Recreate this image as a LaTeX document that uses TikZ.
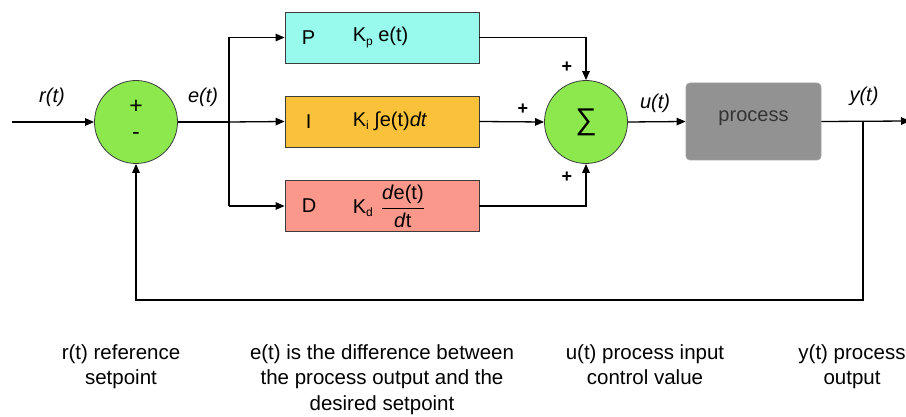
\documentclass[tikz,border=0pt]{standalone}
\usepackage{fontspec}
\setmainfont{Liberation Sans}
\usetikzlibrary{arrows.meta,calc}
\definecolor{pcol}{RGB}{152,250,236}
\definecolor{icol}{RGB}{249,194,58}
\definecolor{dcol}{RGB}{250,152,140}
\definecolor{gcol}{RGB}{140,232,76}
\definecolor{prcol}{RGB}{146,146,146}
\definecolor{edgecol}{RGB}{60,60,60}
\tikzset{
  sumnode/.style={circle, draw=edgecol, line width=0.8pt, fill=gcol, minimum size=83pt, inner sep=0pt},
  termbox/.style={rectangle, draw=edgecol, line width=0.8pt, minimum width=194pt, minimum height=51pt, inner sep=0pt},
  procbox/.style={rectangle, rounded corners=4pt, draw=prcol!85!white, line width=0.8pt, fill=prcol, minimum width=135pt, minimum height=77pt, inner sep=0pt},
  conn/.style={line width=1.3pt, -{Triangle[length=9pt,width=7.5pt]}},
  wire/.style={line width=1.3pt},
  lbl/.style={font=\fontsize{20}{24}\selectfont\itshape, inner sep=0pt},
  boxtxt/.style={font=\fontsize{20}{24}\selectfont, inner sep=0pt, anchor=west},
  sgn/.style={font=\fontsize{18}{20}\selectfont\bfseries, inner sep=0pt},
  bigsgn/.style={font=\fontsize{23}{24}\selectfont, inner sep=0pt},
  note/.style={font=\fontsize{20.5}{25.5}\selectfont, align=center, inner sep=0pt, anchor=north},
}
\begin{document}
\begin{tikzpicture}[x=1pt,y=-1pt]
\useasboundingbox (0,0) rectangle (906,417);
% nodes
\node[sumnode] (s1) at (136,122) {};
\node[bigsgn] (s1p) at (136,107) {+};
\node[bigsgn] (s1m) at (136,136) {-};
\node[termbox, fill=pcol] (P) at (382,37.5) {};
\node[termbox, fill=icol] (I) at (382,121.5) {};
\node[termbox, fill=dcol] (D) at (382,206) {};
\node[boxtxt] (Pl) at ([xshift=17pt]P.west) {P};
\node[boxtxt] (Pk) at ([xshift=68pt]P.west) {K\raisebox{-0.3ex}{\fontsize{12}{12}\selectfont p} e(t)};
\node[boxtxt] (Il) at ([xshift=21pt]I.west) {I};
\node[boxtxt] (Ik) at ([xshift=68pt]I.west) {K\raisebox{-0.3ex}{\fontsize{12}{12}\selectfont i} ∫e(t)\textit{dt}};
\node[boxtxt] (Dl) at ([xshift=17pt]D.west) {D};
\node[boxtxt] (Dk) at ([xshift=68pt]D.west) {K\raisebox{-0.3ex}{\fontsize{12}{12}\selectfont d}\hspace{8pt}$\displaystyle\frac{\textrm{\textit{d}e(t)}}{\textrm{\textit{d}t}}$};
\node[sumnode] (s2) at (586,122) {};
\node[inner sep=0pt] (sig) at (586,122) {\fontsize{30}{30}\selectfont ∑};
\node[procbox] (proc) at (753.5,121.5) {};
\node[font=\fontsize{20}{24}\selectfont, text=black!80, inner sep=0pt] (proct) at (753.5,118) {process};
% labels
\node[lbl] (rt) at (52,97) {r(t)};
\node[lbl] (et) at (203,97) {e(t)};
\node[lbl] (ut) at (655,103) {u(t)};
\node[lbl] (yt) at (864,96) {y(t)};
\node[sgn] (pp) at (567,67) {+};
\node[sgn] (pi) at (523,109) {+};
\node[sgn] (pd) at (567,177) {+};
% coordinates
\coordinate (in) at (12,122);
\coordinate (br) at (229,122);
\coordinate (brt) at (229,37.5);
\coordinate (brb) at (229,206);
\coordinate (ptop) at (586,37.5);
\coordinate (dbot) at (586,206);
\coordinate (tap) at (863,121);
\coordinate (out) at (910,121);
\coordinate (fbr) at (863,300);
\coordinate (fbl) at (136,300);
% connectors
\draw[conn] (in) -- (s1.west);
\draw[wire] (s1.east) -- (br);
\draw[conn] (br) -- (I.west);
\draw[conn] (brt) -- (P.west);
\draw[wire] (brt) -- (brb);
\draw[conn] (brb) -- (D.west);
\draw[conn] (P.east) -- (ptop) -- (s2.north);
\draw[conn] (I.east) -- (s2.west);
\draw[conn] (D.east) -- (dbot) -- (s2.south);
\draw[conn] (s2.east) -- (proc.west);
\draw[conn] (proc.east) -- (out);
\draw[conn] (tap) -- (fbr) -- (fbl) -- (s1.south);
% notes
\node[note] (n1) at (121,344) {r(t) reference\\setpoint};
\node[note] (n2) at (382,344) {e(t) is the difference between\\the process output and the\\desired setpoint};
\node[note] (n3) at (645,344) {u(t) process input\\control value};
\node[note] (n4) at (852,344) {y(t) process\\output};
\end{tikzpicture}
\end{document}
